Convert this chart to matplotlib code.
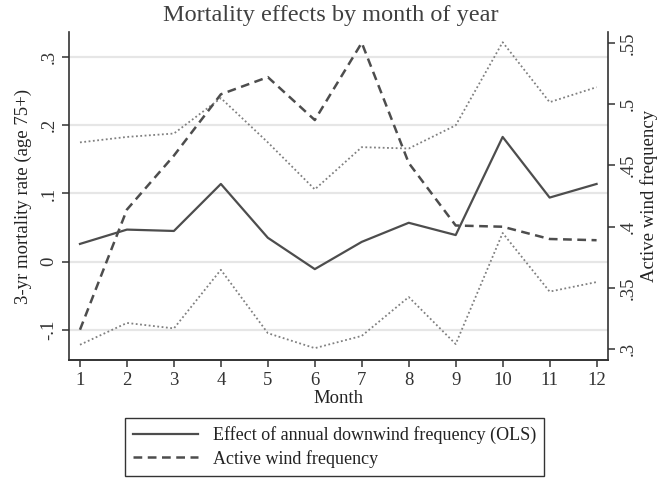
import numpy as np
import matplotlib.pyplot as plt
from matplotlib.ticker import FixedLocator

plt.rcParams['font.family'] = ['Liberation Serif', 'DejaVu Serif']

months = np.arange(1, 13)
# effect of annual downwind frequency (OLS), with confidence bands
effect = [0.026, 0.047, 0.045, 0.114, 0.035, -0.011, 0.029, 0.057, 0.039, 0.183, 0.094, 0.114]
ci_upper = [0.175, 0.183, 0.188, 0.240, 0.175, 0.106, 0.168, 0.166, 0.200, 0.322, 0.234, 0.256]
ci_lower = [-0.122, -0.090, -0.098, -0.012, -0.105, -0.127, -0.109, -0.052, -0.121, 0.042, -0.044, -0.030]
# active wind frequency (right axis)
wind_freq = [0.316, 0.414, 0.458, 0.508, 0.522, 0.487, 0.550, 0.452, 0.401, 0.400, 0.390, 0.389]

left_ticks = [-0.1, 0, 0.1, 0.2, 0.3]
left_labels = ['-.1', '0', '.1', '.2', '.3']
right_ticks = [0.3, 0.35, 0.4, 0.45, 0.5, 0.55]
right_labels = ['.3', '.35', '.4', '.45', '.5', '.55']

dark = '#4d4d4d'
fs = 13.5

fig = plt.figure(figsize=(6.61, 4.79), dpi=100)
ax = fig.add_axes([0.1048, 0.2484, 0.8155, 0.6848])
ax2 = ax.twinx()

# gridlines on left axis ticks
for t in left_ticks:
    ax.axhline(t, color='#e6e6e6', lw=1.6, zorder=0)

l1, = ax.plot(months, effect, color=dark, lw=1.6, zorder=3)
ax.plot(months, ci_upper, color='#808080', lw=1.3, ls=(0, (1, 1.4)), zorder=2)
ax.plot(months, ci_lower, color='#808080', lw=1.3, ls=(0, (1, 1.4)), zorder=2)
l2, = ax2.plot(months, wind_freq, color=dark, lw=1.8, ls=(0, (3.5, 2.2)), zorder=3)

ax.set_xlim(0.772, 12.25)
ax.set_ylim(-0.1444, 0.337)
ax2.set_ylim(0.2913, 0.5588)

ax.set_xticks(months)
ax.set_xticklabels([str(m) for m in months])
ax.yaxis.set_major_locator(FixedLocator(left_ticks))
ax.set_yticklabels(left_labels, rotation=90, va='center')
ax2.yaxis.set_major_locator(FixedLocator(right_ticks))
ax2.set_yticklabels(right_labels, rotation=90, va='center')

for a in (ax, ax2):
    a.spines['top'].set_visible(False)
    for s in a.spines.values():
        s.set_color('#333333')
        s.set_linewidth(1.2)
    a.tick_params(labelsize=fs, colors='#333333', length=5, width=1.1)
ax2.spines['left'].set_visible(False)
ax.spines['right'].set_visible(False)

ax.set_xlabel('Month', fontsize=fs, color='#222222', labelpad=1)
ax.set_ylabel('3-yr mortality rate (age 75+)', fontsize=fs, color='#222222', labelpad=6)
ax2.set_ylabel('Active wind frequency', fontsize=fs, color='#222222', rotation=90, labelpad=2)
fig.suptitle('Mortality effects by month of year', fontsize=17.5, color='#404040', y=0.99)

leg = fig.legend([l1, l2],
                 ['Effect of annual downwind frequency (OLS)', 'Active wind frequency'],
                 loc='lower center', bbox_to_anchor=(0.506, -0.012),
                 fontsize=13, frameon=True, fancybox=False, edgecolor='#333333',
                 framealpha=1, handlelength=3.6, handletextpad=0.8,
                 labelspacing=0.3, borderpad=0.45)
leg.get_frame().set_linewidth(1.0)
for t in leg.get_texts():
    t.set_color('#222222')

fig.savefig('out.png', dpi=100)
